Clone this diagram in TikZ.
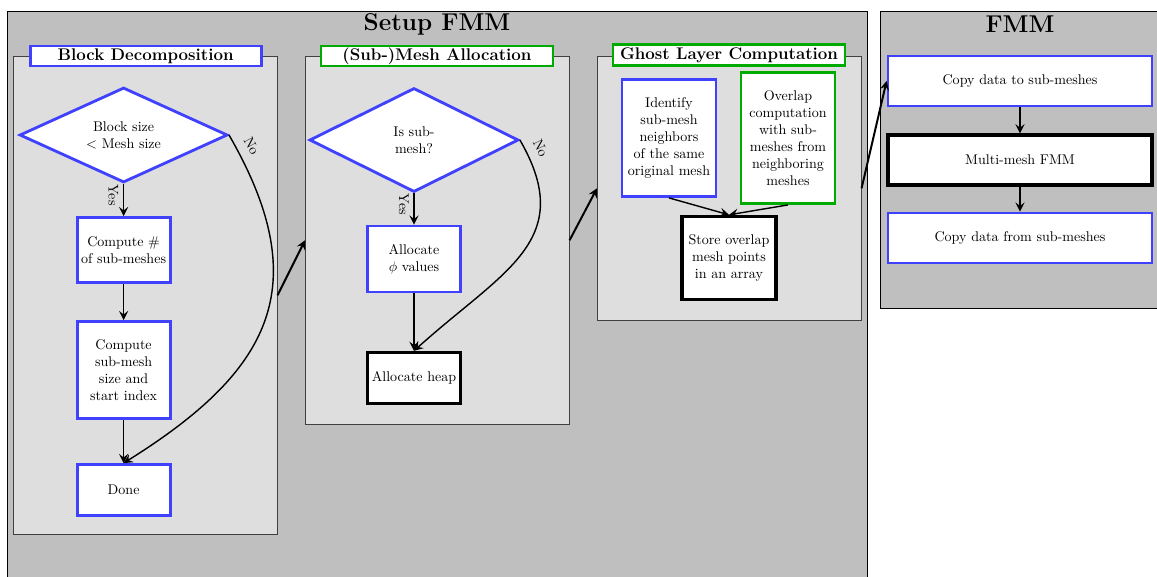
\documentclass[tikz,border=0pt]{standalone}
\usepackage{xcolor}
\usepackage{tikz}
\usetikzlibrary{arrows.meta}
\usetikzlibrary{calc}
\usetikzlibrary{positioning}
\usetikzlibrary{shapes.geometric}
\usetikzlibrary{shapes}

\colorlet{stepblue}{blue!75!white}
\colorlet{stepgreen}{green!67!black}

\begin{document}
\begin{tikzpicture}
[
	outer/.style	= {rectangle, draw = black, fill = black!25, inner sep = 0cm},
	stage/.style	= {rectangle, draw = black!75, fill = black!13, inner sep = 0cm},
	banner/.style	= {rectangle, draw = stepblue, line width = 2pt, fill = white, font = \large\bfseries, inner sep = 0cm, minimum height = 0.5cm},
	task/.style	= {rectangle, draw = stepblue, line width = 2pt, fill = white, align = center, inner sep = 0.05cm, minimum width = 2.325cm},
	heavy/.style	= {task, draw = black, line width = 2.4pt},
	decision/.style	= {diamond, draw = stepblue, line width = 2pt, fill = white, align = center, aspect = 2, inner sep = 0cm},
	flow/.style	= {-{Stealth[length = 6.5pt, width = 6.5pt, inset = 2.5pt]}, line width = 1pt},
	bigflow/.style	= {-{Stealth[length = 6.5pt, width = 6.5pt, inset = 2.5pt]}, line width = 1.4pt},
]

	\useasboundingbox (0,0) rectangle (28.925,-14.4);
	\clip (0,0) rectangle (28.925,-14.4);

	% setup and fmm frames
	\node (setup) [outer, minimum width = 21.5cm, minimum height = 14.225cm, anchor = north west] at (0.175,-0.275) {};
	\node (fmm) [outer, minimum width = 7cm, minimum height = 7.425cm, anchor = north west] at (22.0,-0.275) {};
	\node (setuptitle) [font = \LARGE\bfseries] at (10.925,-0.6) {Setup FMM};
	\node (fmmtitle) [font = \LARGE\bfseries] at (25.5,-0.6) {FMM};

	% block decomposition
	\node (blockdec) [stage, minimum width = 6.6cm, minimum height = 11.95cm, anchor = north west] at (0.325,-1.4) {};
	\node (blocktitle) [banner, minimum width = 5.775cm] at (3.64,-1.4) {Block Decomposition};
	\node (blocksize) [decision, minimum width = 5.2cm, minimum height = 2.375cm] at (3.09,-3.375) {Block size\\$<$ Mesh size};
	\node (numsub) [task, minimum height = 1.625cm] at (3.09,-6.25) {Compute \#\\of sub-meshes};
	\node (subsize) [task, minimum height = 2.425cm] at (3.09,-9.25) {Compute\\sub-mesh\\size and\\start index};
	\node (done) [task, minimum height = 1.275cm] at (3.09,-12.25) {Done};

	\draw [flow] (blocksize) -- node [pos = 0.35, sloped, below] {Yes} (numsub);
	\draw [flow] (numsub) -- (subsize);
	\draw [flow] (subsize) -- (done);
	\draw [flow] (blocksize.east) .. controls +(-60:4.4cm) and +(32:4.3cm) .. node [pos = 0.04, sloped, above = 3pt] {No} (done.north);

	% (sub-)mesh allocation
	\node (meshalloc) [stage, minimum width = 6.6cm, minimum height = 9.2cm, anchor = north west] at (7.625,-1.4) {};
	\node (meshtitle) [banner, draw = stepgreen, minimum width = 5.8cm] at (10.925,-1.4) {(Sub-)Mesh Allocation};
	\node (issub) [decision, minimum width = 5.225cm, minimum height = 2.6cm] at (10.35,-3.5) {Is sub-\\mesh?};
	\node (phi) [task, minimum height = 1.65cm] at (10.35,-6.475) {Allocate\\$\phi$ values};
	\node (heap) [heavy, minimum height = 1.275cm] at (10.35,-9.45) {Allocate heap};

	\draw [flow] (issub) -- node [pos = 0.35, sloped, below] {Yes} (phi);
	\draw [flow] (phi) -- (heap);
	\draw [flow] (issub.east) .. controls +(-60:2.9cm) and +(42:3cm) .. node [pos = 0.05, sloped, above = 3pt] {No} (heap.north);

	% ghost layer computation
	\node (ghost) [stage, minimum width = 6.6cm, minimum height = 6.6cm, anchor = north west] at (14.925,-1.4) {};
	\node (ghosttitle) [banner, draw = stepgreen, minimum width = 5.8cm, minimum height = 0.525cm] at (18.225,-1.375) {Ghost Layer Computation};
	\node (identify) [task, minimum width = 2.35cm, minimum height = 2.925cm] at (16.725,-3.45) {Identify\\sub-mesh\\neighbors\\of the same\\original mesh};
	\node (overlap) [task, draw = stepgreen, minimum width = 2.35cm, minimum height = 3.275cm] at (19.7,-3.45) {Overlap\\computation\\with sub-\\meshes from\\neighboring\\meshes};
	\node (store) [heavy, minimum width = 2.35cm, minimum height = 2.075cm] at (18.225,-6.45) {Store overlap\\mesh points\\in an array};

	\draw [flow] (identify.south) -- (store.north);
	\draw [flow] (overlap.south) -- (store.north);

	% fmm
	\node (copyto) [task, minimum width = 6.6cm, minimum height = 1.25cm] at (25.5,-2.025) {Copy data to sub-meshes};
	\node (multi) [heavy, minimum width = 6.6cm, minimum height = 1.25cm] at (25.5,-4.0) {Multi-mesh FMM};
	\node (copyfrom) [task, minimum width = 6.6cm, minimum height = 1.25cm] at (25.5,-5.95) {Copy data from sub-meshes};

	\draw [bigflow] (copyto) -- (multi);
	\draw [bigflow] (multi) -- (copyfrom);

	% stage to stage
	\draw [bigflow] (blockdec.east) -- (meshalloc.west);
	\draw [bigflow] (meshalloc.east) -- (ghost.west);
	\draw [bigflow] (ghost.east) -- (copyto.west);

\end{tikzpicture}
\end{document}
